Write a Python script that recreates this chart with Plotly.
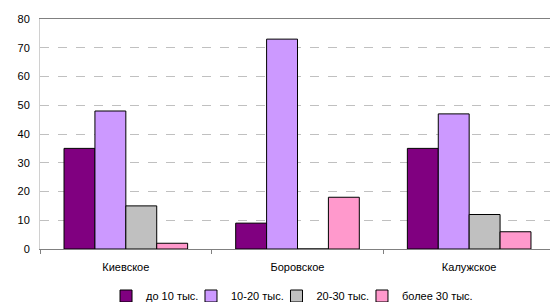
import plotly.graph_objects as go

categories = ["Киевское", "Боровское", "Калужское"]
series_names = ["до 10 тыс.", "10-20 тыс.", "20-30 тыс.", "более 30 тыс."]
s1 = [35, 9, 35]
s2 = [48, 73, 47]
s3 = [15, 0, 12]
s4 = [2, 18, 6]
colors = ["#800080", "#CC99FF", "#C0C0C0", "#FF99CC"]
y_ticks = [0, 10, 20, 30, 40, 50, 60, 70, 80]

legend_ids = ["legend", "legend2", "legend3", "legend4"]
legend_x = [0.1282, 0.2932, 0.4592, 0.6252]

fig = go.Figure()
for name, vals, c, lid in zip(series_names, [s1, s2, s3, s4], colors, legend_ids):
    fig.add_trace(go.Bar(
        x=categories, y=vals, name=name, legend=lid,
        marker=dict(color=c, line=dict(color="#000000", width=1)),
    ))

legend_common = dict(orientation="h", xanchor="left", yref="container", y=0.0204,
                     yanchor="middle", font=dict(size=11), itemwidth=30,
                     bgcolor="rgba(0,0,0,0)", borderwidth=0)

fig.update_layout(
    width=550, height=294,
    margin=dict(l=32, r=3, t=11, b=53),
    barmode="group", bargap=0.28, bargroupgap=0,
    plot_bgcolor="white", paper_bgcolor="white",
    font=dict(family="Liberation Sans, Arial, sans-serif", size=11, color="#000000"),
    showlegend=True,
    xaxis=dict(showline=True, linecolor="#808080", linewidth=1, mirror=True,
               ticks="outside", tickson="boundaries", ticklen=4, tickcolor="#808080",
               showgrid=False, tickfont=dict(size=11), automargin=False,
               ticklabelstandoff=8),
    yaxis=dict(range=[0, 80], tickvals=y_ticks, showline=True, linecolor="#D0D0D0",
               mirror=True, showgrid=True, gridcolor="#C0C0C0", griddash="dash",
               gridwidth=1, zeroline=False, ticks="", tickfont=dict(size=11),
               automargin=False, ticklabelstandoff=7),
)
for lid, lx in zip(legend_ids, legend_x):
    fig.update_layout({lid: dict(legend_common, x=lx)})

fig.write_html("out.html")
